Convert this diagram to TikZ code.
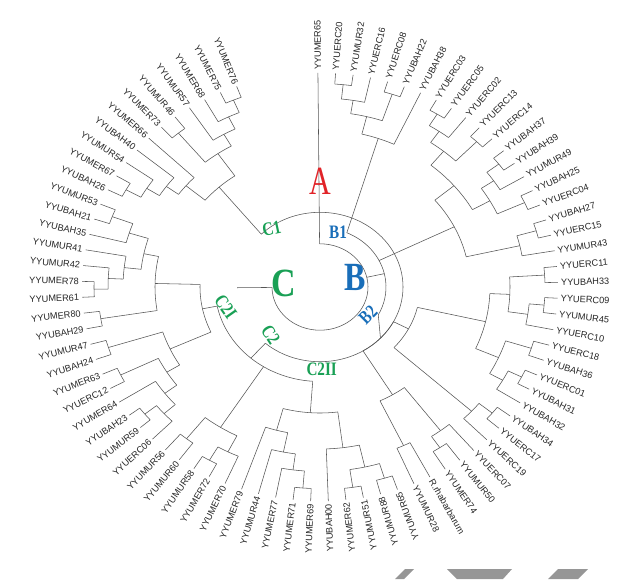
\documentclass[tikz,border=0pt]{standalone}
\usepackage{fontspec}
\setmainfont{Liberation Serif}
\newfontfamily\lsans{Liberation Sans}
\definecolor{cA}{RGB}{225,35,40}
\definecolor{cB}{RGB}{25,110,185}
\definecolor{cC}{RGB}{25,160,85}
\definecolor{ln}{RGB}{85,85,85}
\definecolor{wm}{RGB}{150,150,150}
\newcommand\lang[1]{(90.5-4.25*((#1)-1))}
\newcommand\tnd[4]{%
 \draw[br] ({\lang{#1}}:#3pt) arc[start angle={\lang{#1}}, end angle={\lang{#2}}, radius=#3pt];
 \draw[br] ({\lang{((#1)+(#2))/2}}:#4pt) -- ({\lang{((#1)+(#2))/2}}:#3pt);}
\newcommand\tarc[3]{\draw[br] ({\lang{#1}}:#3pt) arc[start angle={\lang{#1}}, end angle={\lang{#2}}, radius=#3pt];}
\newcommand\tlf[2]{\draw[br] ({\lang{#1}}:#2pt) -- ({\lang{#1}}:238pt);}
\begin{document}
\begin{tikzpicture}[br/.style={draw=ln, line width=0.55pt},
 lbl/.style={font=\lsans\fontsize{9.2}{10}\selectfont, inner sep=1pt, text=black!85},
 big/.style={font=\bfseries\fontsize{40}{40}\selectfont, inner sep=0pt},
 sml/.style={font=\bfseries\fontsize{19}{19}\selectfont, inner sep=0pt}]
\useasboundingbox (0,0) rectangle (618pt,-579pt);
\fill[white] (0,0) rectangle (618pt,-579pt);
\begin{scope}[shift={(320pt,-287pt)}, yscale=0.9]
% root
\draw[br] (90.5:48pt) arc[start angle=90.5, end angle={\lang{64.515625}}, radius=48pt];
\tlf{1}{48}
% B
\draw[br] (13:48pt) -- (13:66pt);
\draw[br] (66:66pt) arc[start angle=66, end angle=-28, radius=66pt];
% B1
\tlf{2}{226}\tlf{3}{226}\tnd{2}{3}{226}{210}
\tlf{4}{210}\tnd{2.5}{4}{210}{195}
\tlf{5}{226}\tlf{6}{226}\tnd{5}{6}{226}{195}
\tnd{3.25}{5.5}{195}{175}
\tlf{7}{175}\tarc{4.375}{7}{175}
\draw[br] (66:66pt) -- ({\lang{5.6875}}:175pt);
% Bx
\tlf{8}{225}\tlf{9}{225}\tnd{8}{9}{225}{210}
\tlf{10}{210}\tnd{8.5}{10}{210}{195}
\tlf{11}{225}\tlf{12}{225}\tnd{11}{12}{225}{195}
\tnd{9.25}{11.5}{195}{175}
\tlf{13}{225}\tlf{14}{225}\tnd{13}{14}{225}{210}
\tlf{15}{210}\tnd{13.5}{15}{210}{195}
\tlf{16}{225}\tlf{17}{225}\tnd{16}{17}{225}{195}
\tnd{14.25}{16.5}{195}{175}
\tnd{10.375}{15.375}{175}{150}
\tlf{18}{225}\tlf{19}{225}\tnd{18}{19}{225}{205}
\tlf{20}{205}\tnd{18.5}{20}{205}{150}
\tnd{12.875}{19.25}{150}{66}
% B2 upper
\tlf{21}{225}\tlf{22}{225}\tnd{21}{22}{225}{190}
\tlf{23}{225}\tlf{24}{225}\tnd{23}{24}{225}{210}
\tlf{25}{210}\tnd{23.5}{25}{210}{190}
\tnd{21.5}{24.25}{190}{170}
\tlf{26}{222}\tlf{27}{222}\tnd{26}{27}{222}{195}
\tlf{28}{225}\tlf{29}{225}\tnd{28}{29}{225}{210}
\tlf{30}{210}\tnd{28.5}{30}{210}{195}
\tnd{26.5}{29.25}{195}{170}
\tnd{22.875}{27.875}{170}{100}
\tlf{31}{222}\tlf{32}{222}\tnd{31}{32}{222}{205}
\tlf{33}{205}\tnd{31.5}{33}{205}{100}
\tnd{25.375}{32.25}{100}{83}
% B2 lower
\tlf{35}{215}\tlf{36}{215}\tnd{35}{36}{215}{200}
\tlf{34}{200}\tnd{34}{35.5}{200}{140}
\tlf{37}{195}\tlf{38}{195}\tnd{37}{38}{195}{140}
\tnd{34.75}{37.5}{140}{83}
% B2 node
\tarc{28.8125}{36.125}{83}
\draw[br] (-28:66pt) -- ({\lang{32.46875}}:83pt);
% C2II
\tlf{39}{222}\tlf{40}{222}\tnd{39}{40}{222}{205}
\tlf{41}{225}\tlf{42}{225}\tnd{41}{42}{225}{205}
\tnd{39.5}{41.5}{205}{180}
\tlf{43}{180}\tnd{40.5}{43}{180}{140}
\tlf{44}{224}\tlf{45}{224}\tnd{44}{45}{224}{205}
\tlf{46}{205}\tnd{44.5}{46}{205}{187}
\tlf{47}{187}\tnd{45.25}{47}{187}{165}
\tlf{48}{165}\tnd{46.125}{48}{165}{140}
\tnd{41.75}{47.0625}{140}{105}
% s13
\tlf{50}{222}\tlf{51}{222}\tnd{50}{51}{222}{205}
\tlf{49}{205}\tnd{49}{50.5}{205}{185}
\tlf{52}{215}\tlf{53}{215}\tnd{52}{53}{215}{185}
\tnd{49.75}{52.5}{185}{105}
% C2I
\tlf{69}{222}\tlf{70}{222}\tnd{69}{70}{222}{200}
\tlf{68}{200}\tnd{68}{69.5}{200}{180}
\tlf{64}{226}\tlf{65}{226}\tnd{64}{65}{226}{212}
\tlf{66}{212}\tnd{64.5}{66}{212}{197}
\tlf{67}{197}\tnd{65.25}{67}{197}{180}
\tnd{66.125}{68.75}{180}{165}
\tlf{62}{222}\tlf{63}{222}\tnd{62}{63}{222}{165}
\tnd{62.5}{67.4375}{165}{120}
\tlf{60}{222}\tlf{61}{222}\tnd{60}{61}{222}{165}
\tlf{58}{222}\tlf{59}{222}\tnd{58}{59}{222}{180}
\tlf{55}{225}\tlf{56}{225}\tnd{55}{56}{225}{210}
\tlf{54}{210}\tnd{54}{55.5}{210}{195}
\tlf{57}{195}\tnd{54.75}{57}{195}{180}
\tnd{55.875}{58.5}{180}{165}
\tnd{57.1875}{60.5}{165}{120}
\tnd{58.84375}{64.96875}{120}{105}
% C2
\tnd{44.40625}{61.90625}{105}{83}
% C1
\tlf{71}{222}\tlf{72}{222}\tnd{71}{72}{222}{205}
\tlf{73}{205}\tnd{71.5}{73}{205}{190}
\tlf{74}{190}\tnd{72.25}{74}{190}{175}
\tlf{75}{175}\tnd{73.125}{75}{175}{150}
\tlf{76}{222}\tlf{77}{222}\tnd{76}{77}{222}{180}
\tlf{80}{225}\tlf{81}{225}\tnd{80}{81}{225}{210}
\tlf{79}{210}\tnd{79}{80.5}{210}{195}
\tlf{78}{195}\tnd{78}{79.75}{195}{180}
\tnd{76.5}{78.875}{180}{150}
\tarc{74.0625}{77.6875}{150}
\draw[br] (135:83pt) -- ({\lang{75.875}}:150pt);
% C
\draw[br] (135:83pt) arc[start angle=135, end angle={\lang{53.15625}}, radius=83pt];
\draw[br] ({\lang{64.515625}}:48pt) -- ({\lang{64.515625}}:83pt);
% labels
\foreach \k/\t in {1/YYUMER65,2/YYUERC20,3/YYUMUR32,4/YYUERC16,5/YYUERC08,6/YYUBAH22,7/YYUBAH38,8/YYUERC03,9/YYUERC05,10/YYUERC02,11/YYUERC13,12/YYUERC14,13/YYUBAH37,14/YYUBAH39,15/YYUMUR49,16/YYUBAH25,17/YYUERC04,18/YYUBAH27,19/YYUERC15,20/YYUMUR43,21/YYUERC11,22/YYUBAH33,23/YYUERC09,24/YYUMUR45,25/YYUERC10,26/YYUERC18,27/YYUBAH36,28/YYUERC01,29/YYUBAH31,30/YYUBAH32,31/YYUBAH34,32/YYUERC17,33/YYUERC19,34/YYUERC07,35/YYUMUR50,36/YYUMER74,37/R.rhabarbarum,38/YYUMUR28,39/YYUMUR65,40/YYUMUR88,41/YYUMUR51,42/YYUMER62,43/YYUBAH00,44/YYUMER69,45/YYUMER71,46/YYUMER77,47/YYUMUR44,48/YYUMER79,49/YYUMER70,50/YYUMER72,51/YYUMUR58,52/YYUMUR60,53/YYUMUR56,54/YYUERC06,55/YYUMUR59,56/YYUBAH23,57/YYUMER64,58/YYUERC12,59/YYUMER63,60/YYUBAH24,61/YYUMUR47,62/YYUBAH29,63/YYUMER80,64/YYUMER61,65/YYUMER78,66/YYUMUR42,67/YYUMUR41,68/YYUBAH35,69/YYUBAH21,70/YYUMUR53,71/YYUBAH26,72/YYUMER67,73/YYUMUR54,74/YYUBAH40,75/YYUMER66,76/YYUMER73,77/YYUMUR46,78/YYUMUR57,79/YYUMER68,80/YYUMER75,81/YYUMER76}{
 \pgfmathsetmacro\th{90.5-4.25*(\k-1)}
 \pgfmathsetmacro\ph{atan2(0.9*sin(\th),cos(\th))}
 \ifnum\k<39
  \node[lbl, anchor=west, rotate=\ph] (L\k) at (\th:240pt) {\t};
 \else
  \node[lbl, anchor=east, rotate=\ph+180] (L\k) at (\th:240pt) {\t};
 \fi
}
\end{scope}
% annotations
\node[font=\fontsize{40}{40}\selectfont, text=cA, inner sep=0pt] (nA) at (320.7pt,-181.7pt) {\scalebox{0.75}[1]{A}};
\node[big, text=cB] (nB) at (355pt,-277.7pt) {\scalebox{0.8}[1]{B}};
\node[big, text=cC] (nC) at (284pt,-283.3pt) {\scalebox{0.85}[1]{C}};
\node[sml, text=cB] (nB1) at (338pt,-232pt) {\scalebox{0.8}[1]{B1}};
\node[sml, text=cB, rotate=45] (nB2) at (368pt,-315pt) {\scalebox{0.8}[1]{B2}};
\node[sml, text=cC, rotate=12] (nC1) at (271.7pt,-229pt) {\scalebox{0.8}[1]{C1}};
\node[sml, text=cC, rotate=-57] (nC2) at (270.7pt,-335pt) {\scalebox{0.8}[1]{C2}};
\node[sml, text=cC, rotate=-55] (nC2I) at (225.7pt,-307pt) {\scalebox{0.8}[1]{C2I}};
\node[sml, text=cC] (nC2II) at (321.7pt,-369pt) {\scalebox{0.8}[1]{C2II}};
% watermark fragments at the bottom edge
\fill[wm] (395pt,-579pt) -- (405pt,-569pt) -- (414pt,-569pt) -- (404pt,-579pt) -- cycle;
\fill[wm] (447pt,-569pt) -- (512pt,-569pt) -- (503pt,-579pt) -- (457pt,-579pt) -- cycle;
\fill[wm] (548pt,-579pt) -- (558pt,-569pt) -- (588pt,-569pt) -- (578pt,-579pt) -- cycle;
\end{tikzpicture}
\end{document}
